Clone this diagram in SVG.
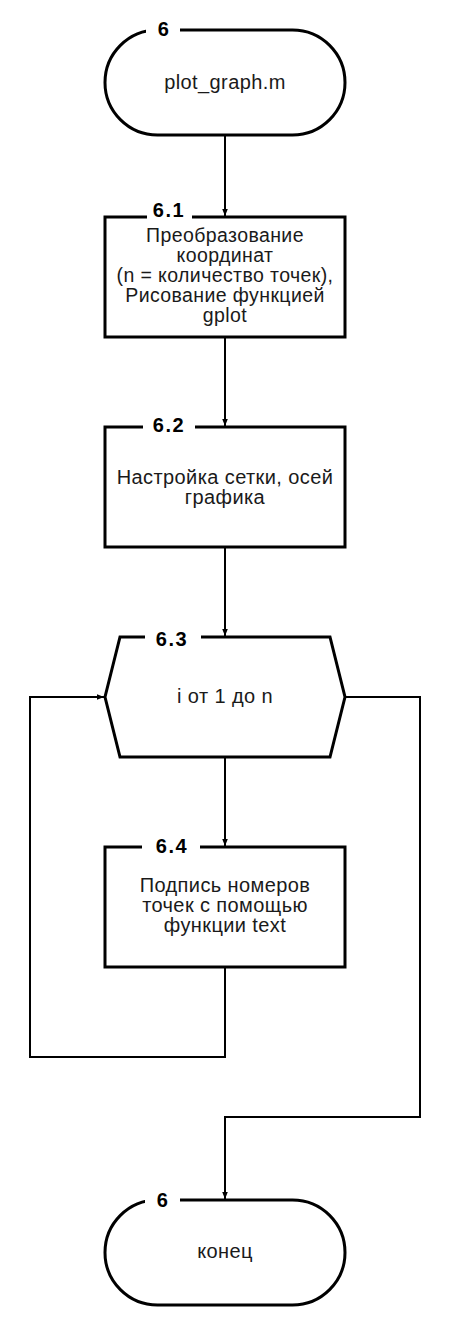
<svg xmlns="http://www.w3.org/2000/svg" width="450" height="1335" viewBox="0 0 450 1335">
<defs>
<marker id="arr" viewBox="0 0 10 10" refX="10" refY="5" markerWidth="7" markerHeight="7" markerUnits="userSpaceOnUse" orient="auto">
<path d="M0,1 L10,5 L0,9 z" fill="#000"/>
</marker>
<style>
.shape{fill:#fff;stroke:#000;stroke-width:3}
.conn{fill:none;stroke:#000;stroke-width:2}
.txt{font-family:"Liberation Sans",Arial,sans-serif;font-size:20px;letter-spacing:0.4px;fill:#1a1a1a;text-anchor:middle}
.lbl{font-family:"Liberation Sans",Arial,sans-serif;font-size:20px;font-weight:bold;fill:#000;text-anchor:middle;letter-spacing:1.5px}
.gap{fill:#fff;stroke:none}
</style>
</defs>
<rect width="450" height="1335" fill="#fff"/>
<g id="connectors">
<path class="conn" d="M225,135 V216" marker-end="url(#arr)"/>
<path class="conn" d="M225,337 V426" marker-end="url(#arr)"/>
<path class="conn" d="M225,547 V636" marker-end="url(#arr)"/>
<path class="conn" d="M225,757 V846" marker-end="url(#arr)"/>
<path class="conn" d="M225,967 V1057 H30 V697 H104" marker-end="url(#arr)"/>
<path class="conn" d="M345,697 H420 V1117 H225 V1199" marker-end="url(#arr)"/>
</g>
<g id="n6">
<rect class="shape" x="105" y="30" width="240" height="105" rx="52.5" ry="52.5"/>
<rect class="gap" x="146" y="25" width="34" height="10"/>
<text class="lbl" x="164" y="36">6</text>
<text class="txt" x="225" y="89">plot_graph.m</text>
</g>
<g id="n6_1">
<rect class="shape" x="105" y="217" width="240" height="120"/>
<rect class="gap" x="147" y="212" width="45" height="10"/>
<text class="lbl" x="169" y="217">6.1</text>
<text class="txt" x="225" y="241.5" style="font-size:19.5px">Преобразование<tspan x="225" dy="20">координат</tspan><tspan x="225" dy="20">(n = количество точек),</tspan><tspan x="225" dy="20">Рисование функцией</tspan><tspan x="225" dy="20">gplot</tspan></text>
</g>
<g id="n6_2">
<rect class="shape" x="105" y="427" width="240" height="120"/>
<rect class="gap" x="143" y="422" width="52" height="10"/>
<text class="lbl" x="169" y="432">6.2</text>
<text class="txt" x="225" y="484">Настройка сетки, осей<tspan x="225" dy="20">графика</tspan></text>
</g>
<g id="n6_3">
<polygon class="shape" points="120,637 330,637 345,697 330,757 120,757 105,697"/>
<rect class="gap" x="145" y="632" width="56" height="10"/>
<text class="lbl" x="172" y="646">6.3</text>
<text class="txt" x="225" y="703">i от 1 до n</text>
</g>
<g id="n6_4">
<rect class="shape" x="105" y="847" width="240" height="120"/>
<rect class="gap" x="142" y="842" width="58" height="10"/>
<text class="lbl" x="172" y="853">6.4</text>
<text class="txt" x="225" y="892">Подпись номеров<tspan x="225" dy="20">точек с помощью</tspan><tspan x="225" dy="20">функции text</tspan></text>
</g>
<g id="n6_end">
<rect class="shape" x="105" y="1200" width="240" height="105" rx="52.5" ry="52.5"/>
<rect class="gap" x="145" y="1195" width="35" height="10"/>
<text class="lbl" x="163" y="1207">6</text>
<text class="txt" x="225" y="1258">конец</text>
</g>
</svg>
